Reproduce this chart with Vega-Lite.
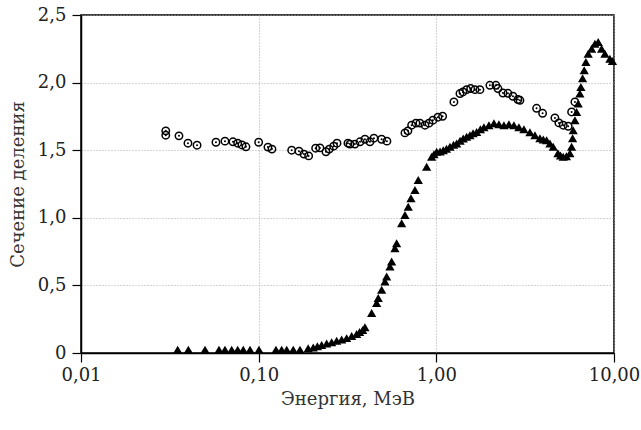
{
  "$schema": "https://vega.github.io/schema/vega-lite/v6.json",
  "width": 533,
  "height": 338,
  "autosize": {"type": "none"},
  "padding": {"left": 81, "top": 15, "right": 27, "bottom": 77},
  "background": "white",
  "view": {"stroke": "#000", "strokeWidth": 1.5},
  "config": {
    "axis": {
      "labelFont": "DejaVu Serif",
      "titleFont": "DejaVu Serif",
      "labelFontSize": 18,
      "titleFontSize": 18,
      "titleFontWeight": "normal",
      "labelColor": "#222",
      "titleColor": "#333",
      "domainColor": "#000",
      "domainWidth": 1.5,
      "tickColor": "#000",
      "tickWidth": 1.2,
      "tickSize": 9,
      "gridColor": "#aaa",
      "gridDash": [1, 2],
      "gridWidth": 1
    }
  },
  "data": {
    "values": [
      {"s": "c", "x": 0.030, "y": 1.643}, {"s": "c", "x": 0.030, "y": 1.611}, {"s": "c", "x": 0.0356, "y": 1.606}, {"s": "c", "x": 0.040, "y": 1.552},
      {"s": "c", "x": 0.045, "y": 1.537}, {"s": "c", "x": 0.0575, "y": 1.559}, {"s": "c", "x": 0.0646, "y": 1.567}, {"s": "c", "x": 0.0717, "y": 1.562},
      {"s": "c", "x": 0.0762, "y": 1.552}, {"s": "c", "x": 0.0805, "y": 1.539}, {"s": "c", "x": 0.0848, "y": 1.525}, {"s": "c", "x": 0.100, "y": 1.559},
      {"s": "c", "x": 0.1128, "y": 1.523}, {"s": "c", "x": 0.1188, "y": 1.508}, {"s": "c", "x": 0.1534, "y": 1.500}, {"s": "c", "x": 0.1686, "y": 1.493},
      {"s": "c", "x": 0.1798, "y": 1.471}, {"s": "c", "x": 0.1911, "y": 1.458}, {"s": "c", "x": 0.2093, "y": 1.515}, {"s": "c", "x": 0.2213, "y": 1.517},
      {"s": "c", "x": 0.2392, "y": 1.488}, {"s": "c", "x": 0.2497, "y": 1.508}, {"s": "c", "x": 0.2643, "y": 1.530}, {"s": "c", "x": 0.2760, "y": 1.552},
      {"s": "c", "x": 0.3181, "y": 1.552}, {"s": "c", "x": 0.3265, "y": 1.545}, {"s": "c", "x": 0.348, "y": 1.545}, {"s": "c", "x": 0.372, "y": 1.562},
      {"s": "c", "x": 0.3965, "y": 1.581}, {"s": "c", "x": 0.423, "y": 1.562}, {"s": "c", "x": 0.4455, "y": 1.589}, {"s": "c", "x": 0.492, "y": 1.581},
      {"s": "c", "x": 0.527, "y": 1.567}, {"s": "c", "x": 0.666, "y": 1.628}, {"s": "c", "x": 0.692, "y": 1.643}, {"s": "c", "x": 0.726, "y": 1.685},
      {"s": "c", "x": 0.768, "y": 1.700}, {"s": "c", "x": 0.8085, "y": 1.700}, {"s": "c", "x": 0.863, "y": 1.685}, {"s": "c", "x": 0.909, "y": 1.700},
      {"s": "c", "x": 0.957, "y": 1.722}, {"s": "c", "x": 1.021, "y": 1.744}, {"s": "c", "x": 1.085, "y": 1.751}, {"s": "c", "x": 1.256, "y": 1.857},
      {"s": "c", "x": 1.358, "y": 1.919}, {"s": "c", "x": 1.412, "y": 1.931}, {"s": "c", "x": 1.481, "y": 1.948}, {"s": "c", "x": 1.560, "y": 1.956},
      {"s": "c", "x": 1.649, "y": 1.948}, {"s": "c", "x": 1.759, "y": 1.948}, {"s": "c", "x": 2.002, "y": 1.980}, {"s": "c", "x": 2.165, "y": 1.980},
      {"s": "c", "x": 2.222, "y": 1.956}, {"s": "c", "x": 2.370, "y": 1.923}, {"s": "c", "x": 2.529, "y": 1.921}, {"s": "c", "x": 2.698, "y": 1.899},
      {"s": "c", "x": 2.879, "y": 1.875}, {"s": "c", "x": 2.955, "y": 1.869}, {"s": "c", "x": 3.667, "y": 1.810}, {"s": "c", "x": 3.964, "y": 1.773},
      {"s": "c", "x": 4.650, "y": 1.739}, {"s": "c", "x": 4.897, "y": 1.702}, {"s": "c", "x": 5.178, "y": 1.685}, {"s": "c", "x": 5.524, "y": 1.677},
      {"s": "c", "x": 5.773, "y": 1.783}, {"s": "c", "x": 6.026, "y": 1.857},
      {"s": "t", "x": 0.035, "y": 0.025}, {"s": "t", "x": 0.0402, "y": 0.025}, {"s": "t", "x": 0.0499, "y": 0.025}, {"s": "t", "x": 0.0598, "y": 0.025},
      {"s": "t", "x": 0.0646, "y": 0.025}, {"s": "t", "x": 0.0705, "y": 0.025}, {"s": "t", "x": 0.0762, "y": 0.025}, {"s": "t", "x": 0.0819, "y": 0.025},
      {"s": "t", "x": 0.0894, "y": 0.025}, {"s": "t", "x": 0.1004, "y": 0.025}, {"s": "t", "x": 0.1251, "y": 0.025}, {"s": "t", "x": 0.1347, "y": 0.025},
      {"s": "t", "x": 0.1438, "y": 0.025}, {"s": "t", "x": 0.1566, "y": 0.025}, {"s": "t", "x": 0.1708, "y": 0.025}, {"s": "t", "x": 0.19, "y": 0.035},
      {"s": "t", "x": 0.2029, "y": 0.04}, {"s": "t", "x": 0.214, "y": 0.05}, {"s": "t", "x": 0.2262, "y": 0.06}, {"s": "t", "x": 0.2414, "y": 0.07},
      {"s": "t", "x": 0.2576, "y": 0.08}, {"s": "t", "x": 0.2748, "y": 0.09}, {"s": "t", "x": 0.2932, "y": 0.1}, {"s": "t", "x": 0.3127, "y": 0.11},
      {"s": "t", "x": 0.3337, "y": 0.125}, {"s": "t", "x": 0.356, "y": 0.14}, {"s": "t", "x": 0.37, "y": 0.155}, {"s": "t", "x": 0.385, "y": 0.17},
      {"s": "t", "x": 0.3965, "y": 0.19}, {"s": "t", "x": 0.4325, "y": 0.295}, {"s": "t", "x": 0.4613, "y": 0.369}, {"s": "t", "x": 0.471, "y": 0.406},
      {"s": "t", "x": 0.4923, "y": 0.467}, {"s": "t", "x": 0.5138, "y": 0.528}, {"s": "t", "x": 0.5252, "y": 0.565}, {"s": "t", "x": 0.5482, "y": 0.639},
      {"s": "t", "x": 0.5603, "y": 0.676}, {"s": "t", "x": 0.5848, "y": 0.775}, {"s": "t", "x": 0.5978, "y": 0.812}, {"s": "t", "x": 0.6378, "y": 0.959},
      {"s": "t", "x": 0.6658, "y": 1.021}, {"s": "t", "x": 0.6949, "y": 1.082}, {"s": "t", "x": 0.7196, "y": 1.144}, {"s": "t", "x": 0.758, "y": 1.205},
      {"s": "t", "x": 0.7912, "y": 1.279}, {"s": "t", "x": 0.882, "y": 1.377}, {"s": "t", "x": 0.9408, "y": 1.451}, {"s": "t", "x": 0.97, "y": 1.47},
      {"s": "t", "x": 1.004, "y": 1.488}, {"s": "t", "x": 1.05, "y": 1.49}, {"s": "t", "x": 1.094, "y": 1.5}, {"s": "t", "x": 1.14, "y": 1.51},
      {"s": "t", "x": 1.193, "y": 1.525}, {"s": "t", "x": 1.25, "y": 1.54}, {"s": "t", "x": 1.301, "y": 1.55}, {"s": "t", "x": 1.36, "y": 1.57},
      {"s": "t", "x": 1.417, "y": 1.587}, {"s": "t", "x": 1.48, "y": 1.6}, {"s": "t", "x": 1.546, "y": 1.611}, {"s": "t", "x": 1.61, "y": 1.625},
      {"s": "t", "x": 1.686, "y": 1.635}, {"s": "t", "x": 1.77, "y": 1.655}, {"s": "t", "x": 1.853, "y": 1.67}, {"s": "t", "x": 1.977, "y": 1.685},
      {"s": "t", "x": 2.11, "y": 1.7}, {"s": "t", "x": 2.251, "y": 1.692}, {"s": "t", "x": 2.402, "y": 1.685}, {"s": "t", "x": 2.562, "y": 1.692},
      {"s": "t", "x": 2.734, "y": 1.685}, {"s": "t", "x": 2.916, "y": 1.67}, {"s": "t", "x": 3.112, "y": 1.655}, {"s": "t", "x": 3.364, "y": 1.633},
      {"s": "t", "x": 3.589, "y": 1.611}, {"s": "t", "x": 3.828, "y": 1.589}, {"s": "t", "x": 4.0, "y": 1.58}, {"s": "t", "x": 4.176, "y": 1.574},
      {"s": "t", "x": 4.36, "y": 1.55}, {"s": "t", "x": 4.549, "y": 1.525}, {"s": "t", "x": 4.834, "y": 1.478}, {"s": "t", "x": 5.0, "y": 1.46},
      {"s": "t", "x": 5.178, "y": 1.451}, {"s": "t", "x": 5.4, "y": 1.455}, {"s": "t", "x": 5.648, "y": 1.478}, {"s": "t", "x": 5.773, "y": 1.525},
      {"s": "t", "x": 5.848, "y": 1.589}, {"s": "t", "x": 5.893, "y": 1.648}, {"s": "t", "x": 6.026, "y": 1.722}, {"s": "t", "x": 6.16, "y": 1.783},
      {"s": "t", "x": 6.286, "y": 1.845}, {"s": "t", "x": 6.427, "y": 1.919}, {"s": "t", "x": 6.511, "y": 1.968}, {"s": "t", "x": 6.656, "y": 2.032},
      {"s": "t", "x": 6.795, "y": 2.091}, {"s": "t", "x": 6.947, "y": 2.152}, {"s": "t", "x": 7.157, "y": 2.214}, {"s": "t", "x": 7.481, "y": 2.251},
      {"s": "t", "x": 7.808, "y": 2.288}, {"s": "t", "x": 8.149, "y": 2.3}, {"s": "t", "x": 8.516, "y": 2.251}, {"s": "t", "x": 8.889, "y": 2.214},
      {"s": "t", "x": 9.482, "y": 2.177}, {"s": "t", "x": 9.8, "y": 2.16}
    ]
  },
  "encoding": {
    "x": {
      "field": "x", "type": "quantitative",
      "scale": {"type": "log", "domain": [0.01, 10], "nice": false},
      "axis": {
        "title": "Энергия, МэВ",
        "values": [0.01, 0.1, 1, 10],
        "labelExpr": "datum.value == 0.01 ? '0,01' : datum.value == 0.1 ? '0,10' : datum.value == 1 ? '1,00' : '10,00'",
        "labelPadding": 4,
        "labelOverlap": false,
        "labelFlush": false,
        "titlePadding": 6,
        "grid": true
      }
    },
    "y": {
      "field": "y", "type": "quantitative",
      "scale": {"domain": [0, 2.5], "nice": false},
      "axis": {
        "title": "Сечение деления",
        "values": [0, 0.5, 1, 1.5, 2, 2.5],
        "labelExpr": "datum.value == 0 ? '0' : replace(format(datum.value, '.1f'), '.', ',')",
        "labelPadding": 6,
        "labelOverlap": false,
        "labelFlush": false,
        "titlePadding": 10,
        "grid": true
      }
    }
  },
  "layer": [
    {
      "mark": {"type": "point", "opacity": 1, "strokeWidth": 1.5},
      "encoding": {
        "shape": {"field": "s", "type": "nominal", "scale": {"domain": ["c", "t"], "range": ["circle", "triangle-up"]}, "legend": null},
        "size": {"field": "s", "type": "nominal", "scale": {"domain": ["c", "t"], "range": [55, 85]}, "legend": null},
        "fill": {"field": "s", "type": "nominal", "scale": {"domain": ["c", "t"], "range": ["transparent", "#000"]}, "legend": null},
        "stroke": {"field": "s", "type": "nominal", "scale": {"domain": ["c", "t"], "range": ["#000", "transparent"]}, "legend": null}
      }
    },
    {
      "transform": [{"filter": "datum.s == 'c'"}],
      "mark": {"type": "point", "shape": "circle", "filled": true, "color": "#000", "opacity": 1, "size": 4}
    }
  ]
}
